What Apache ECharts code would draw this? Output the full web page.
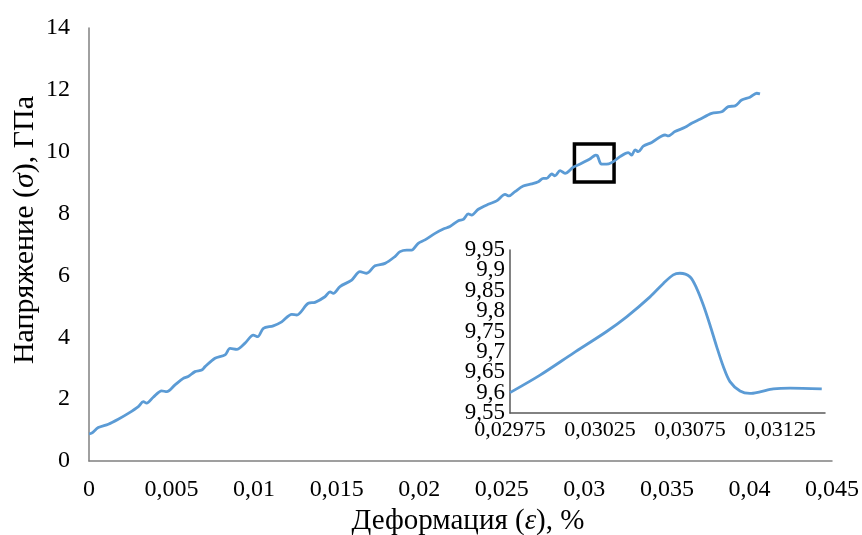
<!DOCTYPE html>
<html>
<head>
<meta charset="utf-8">
<script src="https://cdn.jsdelivr.net/npm/echarts@6/dist/echarts.min.js"></script>
<style>
  html, body { margin: 0; padding: 0; background: #fff; }
  #chart { width: 862px; height: 535px; }
</style>
</head>
<body>
<div id="chart"></div>
<script>
// Stress–strain curve: strain (ε) and stress (σ, GPa)
const strain = [
  0, 0.00016, 0.00056, 0.00117, 0.00177, 0.00238, 0.00299, 0.00329, 0.00349, 0.00389,
  0.00440, 0.00471, 0.00521, 0.00571, 0.00601, 0.00642, 0.00683, 0.00703, 0.00763, 0.00824,
  0.00854, 0.00895, 0.00945, 0.00995, 0.01022, 0.01056, 0.01116, 0.01167, 0.01228, 0.01258,
  0.01328, 0.01369, 0.01429, 0.01460, 0.01480, 0.01520, 0.01591, 0.01641, 0.01682, 0.01732,
  0.01793, 0.01853, 0.01884, 0.01924, 0.01954, 0.01994, 0.02035, 0.02096, 0.02146, 0.02186,
  0.02237, 0.02267, 0.02297, 0.02318, 0.02358, 0.02418, 0.02469, 0.02520, 0.02544, 0.02580,
  0.02630, 0.02681, 0.02721, 0.02752, 0.02772, 0.02802, 0.02822, 0.02853, 0.02883, 0.02933,
  0.02975, 0.03010, 0.03040, 0.03060, 0.03069, 0.03079, 0.03086, 0.03094, 0.03103, 0.03114,
  0.03148, 0.03176, 0.03216, 0.03266, 0.03287, 0.03307, 0.03327, 0.03357, 0.03408, 0.03489,
  0.03509, 0.03549, 0.03610, 0.03650, 0.03700, 0.03771, 0.03832, 0.03872, 0.03913, 0.03953,
  0.04003, 0.04044, 0.04064
];
const stress = [
  0.88, 0.90, 1.08, 1.19, 1.35, 1.54, 1.76, 1.92, 1.87, 2.06,
  2.27, 2.24, 2.46, 2.67, 2.73, 2.89, 2.94, 3.05, 3.32, 3.43,
  3.64, 3.61, 3.81, 4.07, 4.02, 4.29, 4.37, 4.50, 4.74, 4.72,
  5.10, 5.13, 5.31, 5.47, 5.42, 5.64, 5.85, 6.12, 6.07, 6.31,
  6.39, 6.61, 6.77, 6.82, 6.82, 7.04, 7.15, 7.36, 7.50, 7.58,
  7.77, 7.81, 7.99, 7.95, 8.14, 8.30, 8.41, 8.62, 8.57, 8.71,
  8.89, 8.96, 9.03, 9.14, 9.14, 9.28, 9.22, 9.39, 9.30, 9.50,
  9.60, 9.70, 9.79, 9.87, 9.89, 9.87, 9.78, 9.66, 9.60, 9.60,
  9.61, 9.68, 9.84, 9.97, 9.89, 10.06, 10.00, 10.18, 10.30, 10.54,
  10.51, 10.65, 10.79, 10.92, 11.05, 11.24, 11.29, 11.46, 11.48, 11.67,
  11.76, 11.89, 11.87
];

// Close-up of the stress drop
const zoomStrain = [
  0.029750, 0.029917, 0.030102, 0.030287, 0.030398, 0.030528, 0.030602, 0.030657,
  0.030694, 0.030750, 0.030787, 0.030824, 0.030861, 0.030898, 0.030935, 0.030972,
  0.031028, 0.031083, 0.031139, 0.031213, 0.031306, 0.031482
];
const zoomStress = [
  9.600, 9.643, 9.697, 9.750, 9.786, 9.835, 9.868, 9.889,
  9.893, 9.884, 9.856, 9.815, 9.766, 9.713, 9.664, 9.627,
  9.604, 9.598, 9.602, 9.609, 9.611, 9.609
];

// Tick settings
const mainXTicks = { min: 0, max: 0.045, step: 0.005 };
const mainYTicks = { min: 0, max: 14, step: 2 };
const zoomXTicks = { min: 0.02975, max: 0.0315, step: 0.0005 };
// The close-up stress labels sit 0.05 apart; they are split over two
// overlaid axes (…,55/…,65/… and …,6/…,7/…) so none of them gets dropped.
const zoomYTicks = { min: 9.55, max: 9.95, step: 0.1, splitNumber: 4 };

// Region of the main curve shown in the close-up
const zoomBox = { x0: 0.0294, x1: 0.0318, y0: 9.02, y1: 10.25 };

const FONT = '"Liberation Serif", "Times New Roman", serif';
const LINE_COLOR = '#5B9BD5';
const comma = s => s.replace('.', ',');

const chart = echarts.init(document.getElementById('chart'), null, { renderer: 'canvas' });

const axisText = size => ({ color: '#000', fontFamily: FONT, fontSize: size });
const zoomYLabel = v => comma(String(+v.toFixed(2)));

chart.setOption({
  animation: false,
  backgroundColor: '#fff',
  grid: [
    { left: 89, right: 30, top: 28, bottom: 74 },
    { left: 510, right: 37, top: 250, bottom: 122 }
  ],
  xAxis: [
    {
      type: 'value', gridIndex: 0,
      min: mainXTicks.min, max: mainXTicks.max, interval: mainXTicks.step,
      axisLine: { lineStyle: { color: '#808080', width: 1.5 } },
      axisTick: { show: false },
      splitLine: { show: false },
      axisLabel: Object.assign(axisText(24), {
        margin: 17, showMinLabel: true, showMaxLabel: true,
        formatter: v => v === 0 ? '0' : comma(String(+v.toFixed(3)))
      })
    },
    {
      type: 'value', gridIndex: 1,
      min: zoomXTicks.min, max: zoomXTicks.max, interval: zoomXTicks.step,
      axisLine: { lineStyle: { color: '#595959', width: 1.5 } },
      axisTick: { show: false },
      splitLine: { show: false },
      axisLabel: Object.assign(axisText(22), {
        margin: 6, showMinLabel: true, showMaxLabel: false,
        formatter: v => comma(v.toFixed(5))
      })
    }
  ],
  yAxis: [
    {
      type: 'value', gridIndex: 0,
      min: mainYTicks.min, max: mainYTicks.max, interval: mainYTicks.step,
      axisLine: { show: true, lineStyle: { color: '#808080', width: 1.5 } },
      axisTick: { show: false },
      splitLine: { show: false },
      axisLabel: Object.assign(axisText(24), { margin: 19, showMinLabel: true, showMaxLabel: true })
    },
    {
      // …,55 / …,65 / …,75 / …,85 / …,95
      type: 'value', gridIndex: 1, position: 'left', offset: 0,
      min: zoomYTicks.min, max: zoomYTicks.max, interval: zoomYTicks.step,
      axisLine: { show: true, lineStyle: { color: '#595959', width: 1.5 } },
      axisTick: { show: false },
      splitLine: { show: false },
      axisLabel: Object.assign(axisText(23), {
        margin: 5, showMinLabel: true, showMaxLabel: true, formatter: zoomYLabel
      })
    },
    {
      // …,6 / …,7 / …,8 / …,9
      type: 'value', gridIndex: 1, position: 'left', offset: 0,
      min: zoomYTicks.min, max: zoomYTicks.max, splitNumber: zoomYTicks.splitNumber,
      axisLine: { show: false },
      axisTick: { show: false },
      splitLine: { show: false },
      axisLabel: Object.assign(axisText(23), {
        margin: 5, showMinLabel: false, showMaxLabel: false, formatter: zoomYLabel
      })
    }
  ],
  series: [
    {
      type: 'line', xAxisIndex: 0, yAxisIndex: 0,
      data: strain.map((x, i) => [x, stress[i]]),
      showSymbol: false, smooth: 0.3,
      lineStyle: { color: LINE_COLOR, width: 2.8 },
      markArea: {
        silent: true,
        itemStyle: { color: 'rgba(0,0,0,0)', borderColor: '#000', borderWidth: 3.5 },
        data: [[{ coord: [zoomBox.x0, zoomBox.y1] }, { coord: [zoomBox.x1, zoomBox.y0] }]]
      }
    },
    {
      type: 'line', xAxisIndex: 1, yAxisIndex: 1,
      data: zoomStrain.map((x, i) => [x, zoomStress[i]]),
      showSymbol: false, smooth: 0.3,
      lineStyle: { color: LINE_COLOR, width: 2.8 }
    }
  ],
  graphic: [
    {
      type: 'text', x: 25, y: 230, rotation: Math.PI / 2,
      style: {
        text: 'Напряжение ({i|σ}), ГПа',
        fill: '#000', font: '30px ' + FONT,
        align: 'center', verticalAlign: 'middle',
        rich: { i: { fontStyle: 'italic', fontFamily: FONT, fontSize: 30, fill: '#000' } }
      }
    },
    {
      type: 'text', x: 468, y: 521,
      style: {
        text: 'Деформация ({i|ε}), %',
        fill: '#000', font: '29px ' + FONT,
        align: 'center', verticalAlign: 'middle',
        rich: { i: { fontStyle: 'italic', fontFamily: FONT, fontSize: 29, fill: '#000' } }
      }
    }
  ]
});
</script>
</body>
</html>
